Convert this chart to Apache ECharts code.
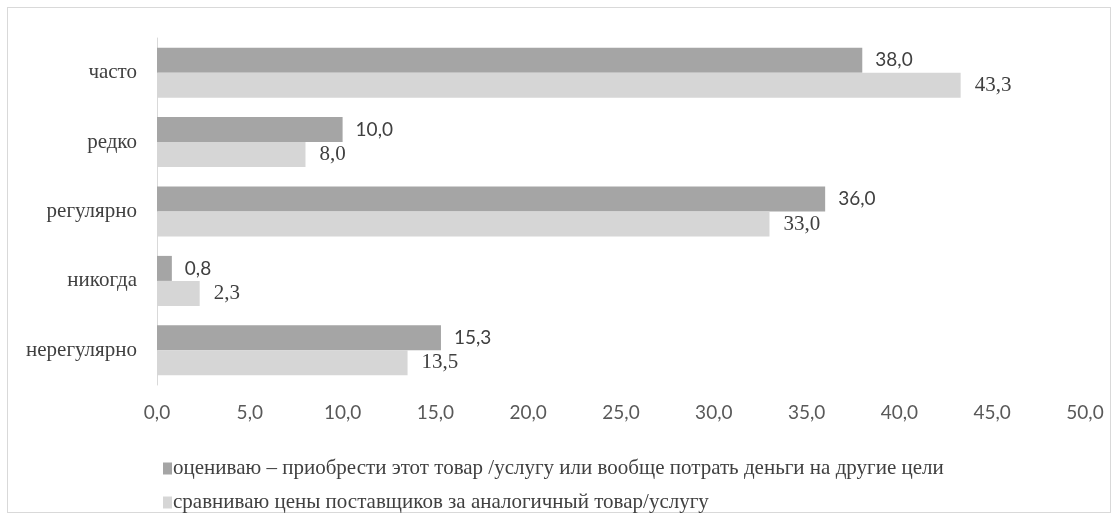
<!DOCTYPE html>
<html>
<head>
<meta charset="utf-8">
<script src="https://cdn.jsdelivr.net/npm/echarts@6/dist/echarts.min.js"></script>
<style>
  html, body { margin: 0; padding: 0; background: #fff; }
  #frame { position: absolute; left: 7px; top: 7px; width: 1102px; height: 504px; border: 1px solid #d9d9d9; }
  #chart { position: absolute; left: 0; top: 0; width: 1118px; height: 520px; }
</style>
</head>
<body>
<div id="frame"></div>
<div id="chart"></div>
<script>
const categories = ["часто", "редко", "регулярно", "никогда", "нерегулярно"];
const seriesNames = [
  "оцениваю – приобрести этот товар /услугу или вообще потрать деньги на другие цели",
  "сравниваю цены поставщиков за аналогичный товар/услугу"
];
const evaluateValues = [38.0, 10.0, 36.0, 0.8, 15.3];
const compareValues = [43.3, 8.0, 33.0, 2.3, 13.5];

const fmt = (v) => v.toFixed(1).replace(".", ",");

const chart = echarts.init(document.getElementById("chart"));

const option = {
  animation: false,
  grid: { left: 157, right: 33, top: 38, bottom: 135 },
  legend: {
    orient: "vertical",
    left: 158,
    top: 453,
    itemGap: 13,
    itemWidth: 9,
    itemHeight: 12,
    icon: "rect",
    textStyle: {
      fontFamily: "Liberation Serif",
      fontSize: 21,
      color: "#404040",
      padding: [0, 0, 0, -4]
    },
    data: seriesNames
  },
  xAxis: {
    type: "value",
    min: 0,
    max: 50,
    interval: 5,
    splitLine: { show: false },
    axisLine: { show: false },
    axisTick: { show: false },
    axisLabel: {
      formatter: (v) => fmt(v),
      fontFamily: "Lato",
      fontSize: 19,
      color: "#595959",
      margin: 18
    }
  },
  yAxis: {
    type: "category",
    inverse: true,
    data: categories,
    axisLine: { show: true, lineStyle: { color: "#d9d9d9" } },
    axisTick: { show: false },
    axisLabel: {
      fontFamily: "Liberation Serif",
      fontSize: 21,
      color: "#404040",
      margin: 20
    }
  },
  series: [
    {
      name: seriesNames[0],
      type: "bar",
      data: evaluateValues,
      barWidth: 25,
      barGap: "0%",
      itemStyle: { color: "#a5a5a5" },
      label: {
        show: true,
        position: "right",
        distance: 13,
        formatter: (p) => fmt(p.value),
        fontFamily: "Lato",
        fontSize: 19,
        color: "#404040"
      }
    },
    {
      name: seriesNames[1],
      type: "bar",
      data: compareValues,
      barWidth: 25,
      barGap: "0%",
      itemStyle: { color: "#d6d6d6" },
      label: {
        show: true,
        position: "right",
        distance: 14,
        formatter: (p) => fmt(p.value),
        fontFamily: "Liberation Serif",
        fontSize: 21,
        color: "#404040"
      }
    }
  ]
};

chart.setOption(option);
</script>
</body>
</html>
